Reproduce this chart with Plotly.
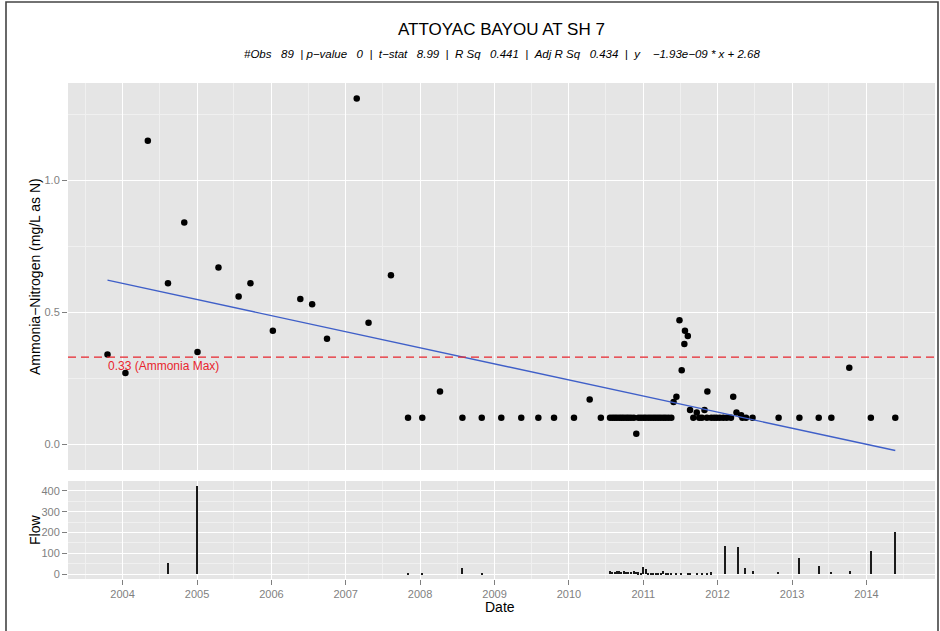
import pandas as pd
import plotly.graph_objects as go

# Ammonia-nitrogen samples (mg/L as N)
sample_dates = [
    "2003-10-19", "2004-01-15", "2004-05-04", "2004-08-11", "2004-10-30", "2005-01-03",
    "2005-04-16", "2005-07-24", "2005-09-20", "2006-01-08", "2006-05-23", "2006-07-20",
    "2006-10-01", "2007-02-24", "2007-04-23", "2007-08-11", "2007-11-03", "2008-01-12",
    "2008-04-08", "2008-07-27", "2008-10-30", "2009-02-03", "2009-05-12", "2009-08-04",
    "2009-10-20", "2010-01-26", "2010-04-13", "2010-06-07",
    "2010-07-22", "2010-08-03", "2010-08-14", "2010-08-25", "2010-09-06", "2010-09-17",
    "2010-09-28", "2010-10-10", "2010-10-21", "2010-11-02", "2010-11-16",
    "2010-11-28",
    "2010-12-09", "2010-12-21", "2011-01-03", "2011-01-14", "2011-01-27", "2011-02-08",
    "2011-02-20", "2011-03-04", "2011-03-16", "2011-03-28", "2011-04-10", "2011-04-22",
    "2011-05-05", "2011-05-19",
    "2011-05-30", "2011-06-13", "2011-06-28", "2011-07-09", "2011-07-22", "2011-07-25",
    "2011-08-08", "2011-08-19",
    "2011-09-04", "2011-09-21", "2011-10-03", "2011-10-16", "2011-10-29", "2011-11-10",
    "2011-11-12", "2011-12-01", "2011-12-15", "2011-12-28", "2012-01-12", "2012-01-29",
    "2012-02-15", "2012-03-07", "2012-03-18", "2012-04-03", "2012-04-26", "2012-05-02",
    "2012-05-20",
    "2012-06-21", "2012-10-27", "2013-02-06", "2013-05-12", "2013-07-13", "2013-10-09",
    "2014-01-23", "2014-05-23",
]
ammonia = [
    0.34, 0.27, 1.15, 0.61, 0.84, 0.35,
    0.67, 0.56, 0.61, 0.43, 0.55, 0.53,
    0.40, 1.31, 0.46, 0.64, 0.10, 0.10,
    0.20, 0.10, 0.10, 0.10, 0.10, 0.10,
    0.10, 0.10, 0.17, 0.10,
    0.10, 0.10, 0.10, 0.10, 0.10, 0.10,
    0.10, 0.10, 0.10, 0.10, 0.10,
    0.04,
    0.10, 0.10, 0.10, 0.10, 0.10, 0.10,
    0.10, 0.10, 0.10, 0.10, 0.10, 0.10,
    0.10, 0.10,
    0.16, 0.18, 0.47, 0.28, 0.38, 0.43,
    0.41, 0.13,
    0.10, 0.12, 0.10, 0.10, 0.13, 0.10,
    0.20, 0.10, 0.10, 0.10, 0.10, 0.10,
    0.10, 0.10, 0.18, 0.12, 0.11, 0.10,
    0.10,
    0.10, 0.10, 0.10, 0.10, 0.10, 0.29,
    0.10, 0.10,
]

# Stream flow recorded at sampling
flow_dates = [
    "2004-08-11", "2005-01-03", "2007-11-03", "2008-01-12", "2008-07-27", "2008-10-30",
    "2010-07-22", "2010-08-03", "2010-08-14", "2010-08-25", "2010-09-06", "2010-09-17",
    "2010-09-28", "2010-10-10", "2010-10-21", "2010-11-02", "2010-11-16", "2010-11-28",
    "2010-12-09", "2010-12-21", "2011-01-03", "2011-01-14", "2011-01-27", "2011-02-08",
    "2011-02-20", "2011-03-04", "2011-03-16", "2011-03-28", "2011-04-10", "2011-04-22",
    "2011-05-05", "2011-05-19", "2011-06-13", "2011-07-09", "2011-08-08", "2011-08-19",
    "2011-09-21", "2011-10-16", "2011-11-10", "2011-12-01",
    "2012-02-06", "2012-04-13", "2012-05-16", "2012-06-23", "2012-10-27", "2013-02-06",
    "2013-05-12", "2013-07-13", "2013-10-12", "2014-01-23", "2014-05-23",
]
flow = [
    55, 425, 2, 2, 27, 1,
    13, 12, 11, 14, 13, 12,
    15, 11, 12, 10, 13, 12,
    9, 6, 34, 24, 3, 7,
    5, 4, 5, 3, 14, 3,
    2, 2, 2, 2, 3, 2,
    3, 2, 2, 8,
    133, 128, 27, 16, 10, 77,
    38, 10, 14, 112, 204,
]

# Reported regression statistics
n_obs = 89
p_value = 0
t_stat = 8.99
r_sq = 0.441
adj_r_sq = 0.434
slope = -1.93e-09      # per second since 1970
intercept = 2.68
ammonia_max = 0.33

title = "ATTOYAC BAYOU AT SH 7"
y_title = "Ammonia\u2212Nitrogen (mg/L as N)"
flow_title = "Flow"
x_title = "Date"

FONT = "Liberation Sans"
PANEL = "#E5E5E5"
GRID_MINOR = "#F0F0F0"
TICK_GREY = "#7F7F7F"
RED = "#E8262E"
BLUE = "#3F5FC8"

# Fitted line across the sampled period
ts = pd.to_datetime(sample_dates)
line_x = [ts.min(), ts.max()]
line_y = [slope * t.timestamp() + intercept for t in line_x]

nb = "\u00a0"
subtitle = (f"#Obs{nb*3}{n_obs}{nb*2}|{nb}p\u2212value{nb*3}{p_value}{nb*2}|{nb*2}"
            f"t\u2212stat{nb*3}{t_stat}{nb*2}|{nb*2}R{nb}Sq{nb*3}{r_sq}{nb*2}|{nb*2}"
            f"Adj{nb}R{nb}Sq{nb*3}{adj_r_sq}{nb*2}|{nb*2}y{nb*4}\u22121.93e\u221209{nb}*{nb}x{nb}+{nb}{intercept}")

fig = go.Figure()

fig.add_trace(go.Scatter(
    x=sample_dates, y=ammonia, mode="markers",
    marker=dict(color="black", size=6.5),
    xaxis="x", yaxis="y", showlegend=False,
))
fig.add_trace(go.Scatter(
    x=line_x, y=line_y, mode="lines",
    line=dict(color=BLUE, width=1.4),
    xaxis="x", yaxis="y", showlegend=False,
))
fig.add_trace(go.Bar(
    x=flow_dates, y=flow, width=7 * 86400000,
    marker=dict(color="#1A1A1A", line=dict(width=0)),
    xaxis="x2", yaxis="y2", showlegend=False,
))

x_range = ["2003-04-08", "2014-12-04"]

common_x = dict(
    type="date", range=x_range, showgrid=True, gridcolor="white", gridwidth=1.4,
    tick0="2000-01-01", dtick="M12", zeroline=False, showline=False,
    minor=dict(showgrid=True, gridcolor=GRID_MINOR, gridwidth=0.8,
               tick0="2000-07-01", dtick="M12"),
)

fig.update_layout(
    width=940, height=631,
    paper_bgcolor="white", plot_bgcolor=PANEL,
    margin=dict(l=68, r=5, t=83, b=52),
    font=dict(family=FONT, color="black"),
    bargap=0,
    xaxis=dict(**common_x, domain=[0, 1], anchor="y", showticklabels=False, ticks=""),
    xaxis2=dict(**common_x, domain=[0, 1], anchor="y2", matches="x",
                showticklabels=True, ticks="outside", ticklen=5, tickwidth=1,
                tickcolor=TICK_GREY, tickformat="%Y",
                tickfont=dict(size=11, color=TICK_GREY, family=FONT)),
    yaxis=dict(domain=[0.2198, 1], anchor="x", range=[-0.0974, 1.3686],
               tick0=0, dtick=0.5, tickformat=".1f", zeroline=False, showline=False,
               showgrid=True, gridcolor="white", gridwidth=1.4,
               minor=dict(showgrid=True, gridcolor=GRID_MINOR, gridwidth=0.8, tick0=0.25, dtick=0.5),
               ticks="outside", ticklen=5, tickwidth=1, tickcolor=TICK_GREY,
               tickfont=dict(size=11, color=TICK_GREY, family=FONT)),
    yaxis2=dict(domain=[0, 0.1976], anchor="x2", range=[-24, 448],
                tick0=0, dtick=100, zeroline=False, showline=False,
                showgrid=True, gridcolor="white", gridwidth=1.4,
                minor=dict(showgrid=True, gridcolor=GRID_MINOR, gridwidth=0.8, tick0=50, dtick=100),
                ticks="outside", ticklen=5, tickwidth=1, tickcolor=TICK_GREY,
                tickfont=dict(size=11, color=TICK_GREY, family=FONT)),
    shapes=[
        dict(type="line", xref="x domain", yref="y", x0=0, x1=1,
             y0=ammonia_max, y1=ammonia_max,
             line=dict(color=RED, width=1.4, dash="8px,5px")),
        dict(type="rect", xref="paper", yref="paper",
             x0=(6 - 68) / 867, x1=(938 - 68) / 867,
             y0=-0.2, y1=(579 - 2) / 496,
             line=dict(color="#444444", width=1.6), fillcolor="rgba(0,0,0,0)"),
    ],
    annotations=[
        dict(text=title, xref="paper", yref="paper", x=0.5, y=(579 - 30) / 496,
             xanchor="center", yanchor="middle", showarrow=False,
             font=dict(size=17, color="black", family=FONT)),
        dict(text=f"<i>{subtitle}</i>", xref="paper", yref="paper", x=0.5, y=(579 - 54) / 496,
             xanchor="center", yanchor="middle", showarrow=False,
             font=dict(size=11.5, color="black", family=FONT)),
        dict(text=f"{ammonia_max} (Ammonia Max)", xref="x", yref="y",
             x=sample_dates[0], y=ammonia_max, xanchor="left", yanchor="top",
             yshift=0, xshift=-2, showarrow=False, font=dict(size=12, color=RED, family=FONT)),
        dict(text=y_title, xref="paper", yref="paper", x=(35 - 68) / 867,
             y=(579 - 277) / 496, textangle=-90, xanchor="center", yanchor="middle",
             showarrow=False, font=dict(size=14, color="black", family=FONT)),
        dict(text=flow_title, xref="paper", yref="paper", x=(35 - 68) / 867,
             y=(579 - 530) / 496, textangle=-90, xanchor="center", yanchor="middle",
             showarrow=False, font=dict(size=14, color="black", family=FONT)),
        dict(text=x_title, xref="paper", yref="paper", x=(500 - 68) / 867,
             y=(579 - 607) / 496, xanchor="center", yanchor="middle",
             showarrow=False, font=dict(size=14, color="black", family=FONT)),
    ],
)

fig.write_html("out.html", config={"displayModeBar": False})
